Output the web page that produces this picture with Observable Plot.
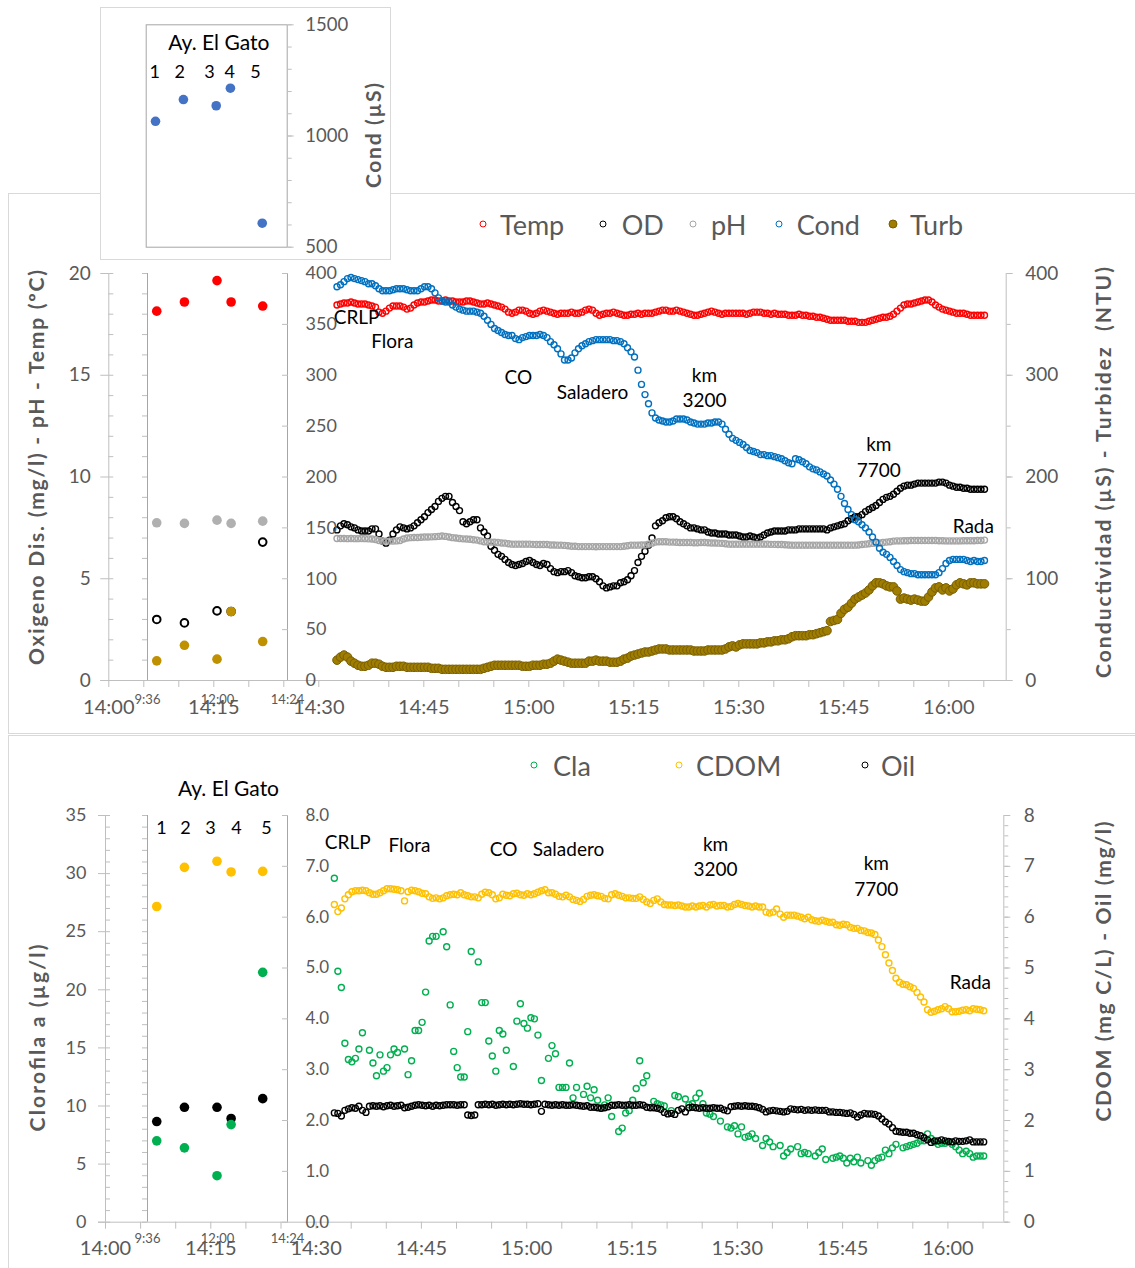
<!DOCTYPE html>
<html><head><meta charset="utf-8">
<script src="https://cdn.jsdelivr.net/npm/d3@7"></script>
<script src="https://cdn.jsdelivr.net/npm/@observablehq/plot@0.6"></script>
<style>
html,body{margin:0;padding:0;background:#fff;overflow:hidden;}
#root{position:relative;width:1135px;height:1268px;overflow:hidden;font-family:Lato,'Open Sans',sans-serif;}
#root svg{position:absolute;left:0;top:0;overflow:visible;}
.box{position:absolute;box-sizing:border-box;border:1px solid #D9D9D9;background:#fff;}
.lg{position:absolute;transform:translateY(-50%);color:#595959;font-size:27px;line-height:1;white-space:nowrap;}
.mk{position:absolute;box-sizing:border-box;border-radius:50%;transform:translate(-50%,-50%);}
</style></head>
<body><div id="root"></div>
<script>
// ---------------- DATA ----------------
// transect samples: every 30 s starting 14:32:36
const sampleStart = "14:32:36";
const sampleStepSeconds = 30;

// Temperature (ºC)
const temp = [
18.45,18.5,18.55,18.55,18.6,18.55,18.5,18.5,18.5,18.45,
18.4,18.35,18.1,18.05,18.15,18.3,18.4,18.4,18.4,18.35,
18.25,18.3,18.45,18.55,18.6,18.6,18.65,18.7,18.7,18.65,
18.65,18.7,18.65,18.65,18.6,18.6,18.6,18.65,18.65,18.6,
18.55,18.5,18.5,18.55,18.5,18.45,18.4,18.35,18.25,18.1,
18.05,18.1,18.2,18.2,18.15,18.05,18.0,18.05,18.15,18.2,
18.15,18.1,18.05,18.0,18.05,18.05,18.05,18.1,18.05,18.05,
18.1,18.2,18.25,18.2,18.05,17.95,18.0,18.05,18.05,18.1,
18.05,18.0,17.95,17.95,18.0,18.0,18.05,18.0,18.05,18.05,
18.05,18.1,18.15,18.2,18.2,18.15,18.15,18.2,18.15,18.1,
18.05,18.0,17.95,17.95,18.0,18.05,18.1,18.15,18.1,18.05,
18.0,18.05,18.05,18.05,18.05,18.05,18.05,18.0,18.05,18.1,
18.1,18.1,18.05,18.05,18.0,18.05,18.0,18.0,18.0,17.95,
17.95,17.95,18.0,17.95,17.95,17.9,17.9,17.85,17.85,17.8,
17.75,17.7,17.7,17.7,17.7,17.7,17.65,17.65,17.65,17.6,
17.6,17.6,17.65,17.7,17.75,17.8,17.85,17.85,17.9,18.0,
18.15,18.3,18.45,18.5,18.5,18.55,18.6,18.65,18.7,18.7,
18.6,18.45,18.35,18.25,18.2,18.15,18.1,18.05,18.05,18.05,
18.0,17.95,17.95,17.95,17.95,17.95];

// Oxígeno disuelto (mg/l)
const od = [
7.4,7.6,7.7,7.65,7.55,7.5,7.4,7.35,7.35,7.35,
7.45,7.45,7.2,6.85,6.75,6.9,7.2,7.4,7.55,7.5,
7.45,7.5,7.6,7.75,7.9,8.05,8.25,8.4,8.55,8.8,
8.95,9.05,9.05,8.75,8.55,8.35,7.8,7.7,7.8,7.9,
7.9,7.5,7.3,7.1,6.6,6.4,6.2,6.1,5.95,5.8,
5.7,5.65,5.7,5.75,5.85,5.9,5.8,5.7,5.65,5.75,
5.7,5.5,5.35,5.3,5.35,5.35,5.4,5.3,5.15,5.1,
5.05,5.05,5.1,5.1,5.0,4.85,4.65,4.55,4.6,4.65,
4.65,4.8,4.85,4.95,5.15,5.4,5.8,6.1,6.35,6.65,
7.0,7.6,7.75,7.85,8.0,8.05,8.05,7.95,7.8,7.7,
7.6,7.5,7.5,7.45,7.4,7.4,7.3,7.25,7.25,7.2,
7.2,7.2,7.15,7.15,7.15,7.1,7.05,7.05,7.1,7.05,
7.0,7.05,7.15,7.25,7.3,7.35,7.35,7.35,7.35,7.4,
7.4,7.4,7.45,7.45,7.45,7.45,7.45,7.45,7.45,7.45,
7.4,7.5,7.55,7.6,7.65,7.7,7.85,7.95,8.05,8.05,
8.15,8.3,8.4,8.5,8.6,8.75,8.9,9.0,9.05,9.15,
9.3,9.45,9.55,9.6,9.6,9.65,9.7,9.7,9.7,9.7,
9.7,9.7,9.75,9.75,9.7,9.6,9.55,9.5,9.5,9.45,
9.45,9.4,9.4,9.4,9.4,9.4];

// pH
const ph = [
6.98,6.98,6.98,6.97,6.98,6.97,6.97,6.98,6.97,6.96,
6.95,6.93,6.88,6.85,6.85,6.85,6.85,6.86,6.88,6.95,
7.0,7.02,7.03,7.03,7.04,7.05,7.05,7.06,7.07,7.08,
7.1,7.08,7.05,7.02,7.0,6.98,6.96,6.95,6.94,6.92,
6.9,6.86,6.82,6.8,6.8,6.79,6.78,6.76,6.75,6.72,
6.7,6.7,6.7,6.7,6.7,6.7,6.69,6.68,6.68,6.68,
6.68,6.66,6.66,6.65,6.65,6.64,6.62,6.6,6.6,6.58,
6.58,6.58,6.58,6.58,6.57,6.58,6.58,6.58,6.58,6.58,
6.58,6.58,6.6,6.62,6.65,6.65,6.65,6.66,6.66,6.7,
6.75,6.8,6.82,6.82,6.82,6.8,6.8,6.79,6.78,6.78,
6.78,6.78,6.77,6.77,6.78,6.78,6.77,6.76,6.76,6.75,
6.74,6.72,6.7,6.7,6.7,6.7,6.7,6.7,6.7,6.7,
6.7,6.7,6.7,6.7,6.69,6.69,6.68,6.68,6.67,6.66,
6.65,6.65,6.65,6.65,6.65,6.65,6.65,6.65,6.65,6.65,
6.65,6.65,6.65,6.65,6.65,6.65,6.65,6.65,6.65,6.66,
6.68,6.7,6.72,6.74,6.75,6.76,6.78,6.8,6.82,6.85,
6.86,6.86,6.87,6.87,6.88,6.88,6.88,6.88,6.88,6.88,
6.88,6.88,6.87,6.87,6.86,6.86,6.86,6.86,6.86,6.87,
6.87,6.87,6.87,6.88,6.88,6.9];

// Conductividad (µS)
const cond = [
387,389,392,395,396,395,394,393,392,390,
390,388,385,383,383,383,384,385,385,385,
384,383,383,383,385,387,387,385,381,376,
373,372,372,369,367,365,364,363,363,363,
362,361,358,354,350,346,344,342,340,339,
339,336,335,337,338,339,339,339,340,339,
337,333,330,326,321,315,315,317,322,326,
329,331,333,334,335,335,335,335,335,334,
334,333,331,327,323,318,305,291,281,272,
263,258,256,255,254,254,255,257,257,257,
256,254,253,252,252,252,253,253,254,254,
252,247,242,238,236,234,232,229,226,225,
224,222,222,221,221,220,219,218,216,214,
213,218,217,215,213,210,208,207,205,203,
201,197,193,188,181,174,168,163,158,156,
153,150,146,141,136,130,126,124,121,117,
113,109,107,106,105,105,104,104,104,104,
104,104,106,110,115,118,119,119,119,119,
118,117,118,117,117,118];

// Turbidez (NTU)
const turb = [
20,23,25,23,19,17,15,14,14,15,
17,17,16,14,13,13,13,14,14,14,
13,13,13,13,13,13,13,12,12,12,
11,11,11,11,11,11,11,11,11,11,
11,11,12,13,14,15,15,15,15,15,
15,15,15,14,14,14,15,15,15,16,
16,17,19,21,20,19,18,17,17,17,
17,17,19,19,20,19,19,19,18,18,
18,19,21,22,24,25,26,27,28,28,
29,30,31,31,31,30,30,30,30,30,
30,30,29,29,29,29,30,30,30,30,
30,31,33,34,33,35,36,36,36,36,
36,37,37,38,38,39,39,40,40,41,
43,44,44,44,44,45,45,46,47,48,
49,58,59,60,66,70,72,76,80,82,
84,86,89,93,96,96,95,93,92,92,
88,80,81,80,79,80,79,78,78,82,
87,91,92,89,91,88,90,94,96,95,
94,96,96,95,95,95];

// Clorofila a (µg/l); null = no visible sample
const cla = [
29.6,21.6,20.2,15.4,14.0,13.8,14.1,14.9,16.3,null,
14.8,13.7,12.6,14.4,13.0,13.3,14.4,14.9,14.6,null,
14.9,12.7,13.9,16.5,16.5,17.2,19.8,24.2,24.6,24.6,
null,25.0,23.7,18.7,14.7,13.3,12.5,12.5,16.4,23.3,
null,22.4,18.9,18.9,15.6,14.3,13.0,16.5,16.2,14.8,
null,13.4,17.3,18.8,17.1,16.7,17.6,17.5,16.1,12.2,
null,14.1,15.2,14.5,11.6,11.6,11.6,13.7,10.7,11.6,
null,11.0,11.7,10.7,11.4,10.5,9.8,10.1,10.7,9.1,
null,7.8,8.1,9.4,9.6,10.5,11.5,13.9,12.0,12.6,
null,10.4,10.2,10.1,10.0,null,9.6,10.9,10.8,null,
10.6,10.1,10.2,10.7,11.1,10.2,9.4,9.3,9.1,null,
8.7,null,8.2,8.1,8.3,7.6,8.2,7.3,7.4,7.6,
7.2,null,6.6,7.2,6.9,6.5,null,6.6,5.7,6.0,
6.3,null,6.5,5.9,6.0,5.9,null,5.7,6.0,6.3,
5.4,null,5.5,5.6,5.7,5.5,5.1,5.5,5.2,5.6,
5.1,null,5.3,4.9,5.3,5.5,5.6,6.2,5.9,6.4,
6.7,null,6.4,6.5,6.6,6.7,6.8,7.0,7.0,7.6,
7.2,6.9,6.7,6.8,6.8,6.9,6.7,6.5,6.2,5.9,
6.1,5.9,5.6,5.7,5.7,5.7];

// CDOM (mg C/L)
const cdom = [
6.25,6.11,6.18,6.36,6.44,6.5,6.52,6.52,6.53,6.52,
6.48,6.45,6.45,6.48,6.52,6.56,6.56,6.55,6.54,6.52,
6.32,6.5,6.53,6.52,6.5,6.47,6.46,6.4,6.37,6.38,
6.36,6.38,6.42,6.44,6.45,6.44,6.48,6.44,6.42,6.4,
6.4,6.38,6.45,6.49,6.48,6.44,6.36,6.38,6.45,6.43,
6.42,6.46,6.47,6.44,6.43,6.46,6.44,6.46,6.49,6.52,
6.54,6.48,6.48,6.45,6.41,6.4,6.43,6.4,6.35,6.33,
6.31,6.35,6.41,6.43,6.44,6.42,6.41,6.37,6.36,6.44,
6.46,6.43,6.41,6.38,6.38,6.37,6.37,6.4,6.35,6.3,
6.27,6.33,6.36,6.3,6.25,6.24,6.24,6.23,6.24,6.22,
6.2,6.2,6.22,6.2,6.22,6.23,6.2,6.24,6.25,6.22,
6.23,6.23,6.2,6.21,6.25,6.27,6.25,6.23,6.22,6.2,
6.22,6.2,6.2,6.1,6.08,6.1,6.16,6.06,6.0,6.04,
6.04,6.04,6.02,6.0,5.97,6.0,5.95,5.93,5.92,5.94,
5.92,5.9,5.9,5.85,5.84,5.86,5.85,5.8,5.78,5.78,
5.74,5.73,5.7,5.69,5.66,5.55,5.42,5.26,5.1,4.95,
4.8,4.72,4.68,4.67,4.63,4.6,4.52,4.43,4.33,4.18,
4.13,4.15,4.18,4.2,4.24,4.2,4.14,4.14,4.15,4.17,
4.18,4.16,4.2,4.19,4.18,4.16];

// Oil (mg/l)
const oil = [
2.15,2.14,2.09,2.2,2.23,2.25,2.24,2.28,2.2,2.16,
2.28,2.29,2.28,2.29,2.27,2.29,2.3,2.28,2.29,2.3,
2.25,2.26,2.28,2.3,2.31,2.3,2.29,2.3,2.28,2.3,
2.29,2.3,2.31,2.31,2.31,2.3,2.31,2.31,2.11,2.1,
2.11,2.31,2.31,2.32,2.31,2.32,2.3,2.31,2.32,2.31,
2.32,2.31,2.32,2.33,2.32,2.32,2.31,2.32,2.33,2.18,
2.32,2.31,2.3,2.31,2.3,2.31,2.3,2.3,2.31,2.3,
2.29,2.28,2.29,2.26,2.26,2.25,2.24,2.25,2.27,2.3,
2.3,2.31,2.3,2.3,2.31,2.3,2.3,2.31,2.3,2.26,
2.25,2.25,2.24,2.22,2.16,2.13,2.14,2.12,2.2,2.23,
2.17,2.25,2.26,2.25,2.24,2.25,2.24,2.24,2.25,2.24,
2.24,2.21,2.19,2.27,2.28,2.29,2.28,2.29,2.28,2.28,
2.27,2.25,2.22,2.17,2.19,2.2,2.19,2.18,2.17,2.18,
2.23,2.22,2.21,2.22,2.2,2.21,2.2,2.21,2.2,2.2,
2.2,2.17,2.17,2.16,2.16,2.15,2.14,2.15,2.12,2.07,
2.11,2.14,2.13,2.13,2.12,2.09,2.03,1.97,1.93,1.86,
1.79,1.78,1.77,1.77,1.75,1.75,1.72,1.7,1.66,1.62,
1.57,1.6,1.6,1.62,1.6,1.59,1.58,1.6,1.59,1.59,
1.6,1.62,1.58,1.58,1.58,1.58];

// Arroyo El Gato stations (sampling time of day)
const stationNames = ["1","2","3","4","5"];
const stationTime = ["09:55","10:52","11:59","12:28","13:33"];
const stationCond = [1066,1164,1136,1215,608];
const stationTemp = [18.15,18.6,19.65,18.6,18.4];
const stationOD = [3.0,2.83,3.42,3.39,6.8];
const stationPH = [7.75,7.72,7.88,7.72,7.83];
const stationTurb = [19.3,34.6,21,67.8,38.3];
const stationCDOM = [6.21,6.98,7.1,6.89,6.9];
const stationOil = [1.98,2.26,2.26,2.04,2.43];
const stationCla = [7.0,6.4,4.0,8.4,21.5];

// Site annotations along the transect (minutes after 14:00, axis value)
const sitesTop = [
  {label:"CRLP", t:35.4, v:17.94}, {label:"Flora", t:40.5, v:16.76},
  {label:"CO", t:58.5, v:14.99}, {label:"Saladero", t:69.1, v:14.25},
  {label:"km\n3200", t:85.1, v:14.45}, {label:"km\n7700", t:110.0, v:11.03},
  {label:"Rada", t:123.5, v:7.67}];
const sitesBottom = [
  {label:"CRLP", t:34.5, v:7.51}, {label:"Flora", t:43.3, v:7.44},
  {label:"CO", t:56.7, v:7.36}, {label:"Saladero", t:65.95, v:7.36},
  {label:"km\n3200", t:86.9, v:7.22}, {label:"km\n7700", t:109.8, v:6.83},
  {label:"Rada", t:123.2, v:4.74}];

// ---------------- HELPERS ----------------
const W = 1135, H = 1268;
const FONT = "Lato, 'Open Sans', sans-serif";
const AX = "#BFBFBF", TXT = "#595959", FRAME = "#A6A6A6";
const RED = "#FF0000", BLUE = "#0070C0", GRAY = "#A5A5A5", GREEN = "#00B050", GOLD = "#FFC000";
const root = document.getElementById("root");

const hm = s => { const [h, m] = s.split(":").map(Number); return h * 60 + m; };
const fmtHM = m => `${Math.floor(m / 60)}:${String(Math.round(m % 60)).padStart(2, "0")}`;
const [sh, sm, ss] = sampleStart.split(":").map(Number);
const t0 = (sh - 14) * 60 + sm + ss / 60;
const times = temp.map((_, i) => t0 + i * sampleStepSeconds / 60);

const rows = temp.map((_, i) => ({t: times[i], temp: temp[i], od: od[i], ph: ph[i], cond: cond[i],
  turb: turb[i], cla: cla[i], cdom: cdom[i], oil: oil[i]}));
const stations = stationNames.map((n, i) => ({name: n, m: hm(stationTime[i]), cond: stationCond[i],
  temp: stationTemp[i], od: stationOD[i], ph: stationPH[i], turb: stationTurb[i],
  cdom: stationCDOM[i], oil: stationOil[i], cla: stationCla[i]}));

const style = {background: "transparent", fontFamily: FONT, overflow: "visible", color: TXT};
function add(el) { root.appendChild(el); return el; }
function box(l, t, w, h) { const d = document.createElement("div"); d.className = "box";
  Object.assign(d.style, {left: l + "px", top: t + "px", width: w + "px", height: h + "px"}); add(d); }
const tickAxY = (anchor, ticks, size, dx = 0) => Plot.axisY({anchor, ticks, tickSize: size, dx,
  tickFormat: () => "", stroke: AX, label: null});
const labAxY = (anchor, ticks, pad, fmt, fs) => Plot.axisY({anchor, ticks, tickSize: 0, tickPadding: pad,
  tickFormat: d => String(fmt(d)), fontSize: fs, fill: TXT, label: null});

// ---------------- PANEL FRAMES ----------------
box(8, 193, 1140, 541);
box(8, 735, 1140, 545);

// ---------------- TOP MAIN ----------------
const xTopEnd = (1005.7 - 108.3) / 7;
add(Plot.plot({
  width: W, height: H, style,
  marginLeft: 108.3, marginRight: W - 1005.7, marginTop: 273, marginBottom: H - 680,
  x: {domain: [0, xTopEnd], label: null}, y: {domain: [0, 20], label: null},
  marks: [
    Plot.ruleY([0], {stroke: AX, insetLeft: -8, insetRight: -4}),
    Plot.ruleX([0, xTopEnd], {stroke: AX}),
    Plot.axisX({ticks: d3.range(0, 126, 5), tickSize: 7, stroke: AX, tickFormat: () => "", label: null}),
    Plot.axisX({ticks: d3.range(0, 121, 15), tickSize: 0, tickPadding: 19, tickFormat: t => fmtHM(840 + t),
      fontSize: 20, fill: TXT, label: null}),
    tickAxY("left", d3.range(0, 21, 5), 8),
    tickAxY("left", d3.range(0, 21, 1), 5, 5),
    labAxY("left", d3.range(0, 21, 5), 18, d => d, 19),
    tickAxY("right", d3.range(0, 21, 5), 6),
    tickAxY("right", d3.range(0, 21, 2.5), 4),
    labAxY("right", d3.range(0, 21, 5), 19, d => d * 20, 19),
    Plot.dot(rows, {x: "t", y: "temp", r: 3, stroke: RED, strokeWidth: 1.4}),
    Plot.dot(rows, {x: "t", y: "od", r: 3, stroke: "#000", strokeWidth: 1.4}),
    Plot.dot(rows, {x: "t", y: "ph", r: 3, stroke: GRAY, strokeWidth: 1.4}),
    Plot.dot(rows, {x: "t", y: d => d.cond / 20, r: 3, stroke: BLUE, strokeWidth: 1.4}),
    Plot.dot(rows, {x: "t", y: d => d.turb / 20, r: 4.3, fill: "#9E7D00", stroke: "#7A5E00", strokeWidth: 1}),
    Plot.text(sitesTop, {x: "t", y: "v", text: "label", fontSize: 19, fill: "#000", lineHeight: 1.35})
  ]
}));

// ---------------- TOP INSET (Ay. El Gato) ----------------
add(Plot.plot({
  width: W, height: H, style,
  marginLeft: 147, marginRight: W - 287, marginTop: 273, marginBottom: H - 680,
  x: {domain: [576, 864], label: null}, y: {domain: [0, 20], label: null},
  marks: [
    Plot.ruleX([576, 864], {stroke: FRAME}),
    tickAxY("left", d3.range(0, 21, 1), 5),
    tickAxY("right", d3.range(0, 20.01, 2.5), 6, -6),
    labAxY("right", d3.range(0, 20.01, 2.5), 18, d => d * 20, 18),
    Plot.axisX({ticks: [576, 720, 864], tickSize: 0, tickPadding: 14, tickFormat: fmtHM, fontSize: 13, fill: TXT, label: null}),
    Plot.dot(stations, {x: "m", y: "temp", r: 4.8, fill: RED}),
    Plot.dot(stations, {x: "m", y: "od", r: 3.8, stroke: "#000", strokeWidth: 2}),
    Plot.dot(stations, {x: "m", y: "ph", r: 4.8, fill: "#B0B0B0"}),
    Plot.dot(stations, {x: "m", y: d => d.turb / 20, r: 4.8, fill: "#BF9000"})
  ]
}));

// ---------------- COND INSET ----------------
box(100, 7, 291, 253);
add(Plot.plot({
  width: W, height: H, style,
  marginLeft: 145.7, marginRight: W - 286.7, marginTop: 24.3, marginBottom: H - 246.7,
  x: {domain: [576, 864], label: null, axis: null}, y: {domain: [500, 1500], label: null},
  marks: [
    Plot.frame({stroke: FRAME}),
    tickAxY("right", [500, 1000, 1500], 6),
    tickAxY("right", d3.range(500, 1501, 100), 4),
    labAxY("right", [500, 1000, 1500], 18, d => d, 18.5),
    Plot.dot(stations, {x: "m", y: "cond", r: 4.8, fill: "#4472C4"}),
    Plot.text(stationNames, {x: [593.6, 644.6, 705.3, 746.8, 799.3], y: 1287, text: d => d, fontSize: 18, fill: "#000"}),
    Plot.text(["Ay. El Gato"], {x: 724.3, y: 1417, text: d => d, fontSize: 21, fill: "#000"})
  ]
}));

// ---------------- BOTTOM MAIN ----------------
const xBotEnd = (1003.3 - 105) / 7.02;
const c2y = d => d * 8 / 35;
add(Plot.plot({
  width: W, height: H, style,
  marginLeft: 105, marginRight: W - 1003.3, marginTop: 815, marginBottom: H - 1221.7,
  x: {domain: [0, xBotEnd], label: null}, y: {domain: [0, 8], label: null},
  marks: [
    Plot.ruleY([0], {stroke: AX, insetLeft: -7, insetRight: -5}),
    Plot.ruleX([0, xBotEnd], {stroke: AX}),
    Plot.axisX({ticks: d3.range(0, 126, 5), tickSize: 7, stroke: AX, tickFormat: () => "", label: null}),
    Plot.axisX({ticks: d3.range(0, 121, 15), tickSize: 0, tickPadding: 19, tickFormat: t => fmtHM(840 + t),
      fontSize: 20, fill: TXT, label: null}),
    tickAxY("left", d3.range(0, 36, 5).map(c2y), 7),
    tickAxY("left", d3.range(0, 36, 1).map(c2y), 5, 5),
    labAxY("left", d3.range(0, 36, 5).map(c2y), 19, d => Math.round(d * 35 / 8), 18),
    tickAxY("right", d3.range(0, 9, 1), 6),
    tickAxY("right", d3.range(0, 8.01, 0.2), 4),
    labAxY("right", d3.range(0, 9, 1), 20, d => d, 19),
    Plot.dot(rows, {x: "t", y: d => d.cla == null ? NaN : c2y(d.cla), r: 3, stroke: GREEN, strokeWidth: 1.4}),
    Plot.dot(rows, {x: "t", y: "cdom", r: 3, stroke: GOLD, strokeWidth: 1.4}),
    Plot.dot(rows, {x: "t", y: "oil", r: 3, stroke: "#000", strokeWidth: 1.4}),
    Plot.text(sitesBottom, {x: "t", y: "v", text: "label", fontSize: 19, fill: "#000", lineHeight: 1.35})
  ]
}));

// ---------------- BOTTOM INSET ----------------
add(Plot.plot({
  width: W, height: H, style,
  marginLeft: 147, marginRight: W - 287, marginTop: 815, marginBottom: H - 1221.7,
  x: {domain: [576, 864], label: null}, y: {domain: [0, 8], label: null},
  marks: [
    Plot.ruleX([576, 864], {stroke: FRAME}),
    tickAxY("left", d3.range(0, 36, 1).map(c2y), 5),
    tickAxY("right", d3.range(0, 9, 1), 6, -6),
    labAxY("right", d3.range(0, 9, 1), 18, d3.format(".1f"), 17),
    Plot.axisX({ticks: [576, 720, 864], tickSize: 0, tickPadding: 12, tickFormat: fmtHM, fontSize: 13, fill: TXT, label: null}),
    Plot.dot(stations, {x: "m", y: "cdom", r: 4.8, fill: GOLD}),
    Plot.dot(stations, {x: "m", y: "oil", r: 4.8, fill: "#000"}),
    Plot.dot(stations, {x: "m", y: d => c2y(d.cla), r: 4.8, fill: GREEN}),
    Plot.text(stationNames, {x: [604.8, 654.2, 705.6, 759, 820.8], y: 7.75, text: d => d, fontSize: 18, fill: "#000"}),
    Plot.text(["Ay. El Gato"], {x: 742.6, y: 8.52, text: d => d, fontSize: 21, fill: "#000"})
  ]
}));

// ---------------- AXIS TITLES ----------------
const titles = [
  {text: "Oxigeno Dis. (mg/l) - pH - Temp (ºC)", x: 35, y: 467.5, len: 395},
  {text: "Conductividad (µS) - Turbidez  (NTU)", x: 1102.5, y: 472.5, len: 411},
  {text: "Cond (µS)", x: 372.5, y: 135.5, len: 105},
  {text: "Clorofila a (µg/l)", x: 36, y: 1038, len: 187},
  {text: "CDOM (mg C/L) - Oil (mg/l)", x: 1102, y: 971.5, len: 300}
];
const ov = d3.create("svg").attr("width", W).attr("height", H).style("font-family", FONT);
ov.selectAll("text").data(titles).join("text")
  .attr("transform", d => `translate(${d.x},${d.y}) rotate(-90)`)
  .attr("text-anchor", "middle").attr("dominant-baseline", "central")
  .attr("font-weight", 700).attr("font-size", 21).attr("fill", TXT)
  .attr("textLength", d => d.len).attr("lengthAdjust", "spacing")
  .style("white-space", "pre").text(d => d.text);
add(ov.node());

// ---------------- LEGENDS ----------------
const legends = [
  {label: "Temp", y: 224, mx: 482.7, tx: 500, stroke: RED},
  {label: "OD", y: 224, mx: 603.3, tx: 621.7, stroke: "#000"},
  {label: "pH", y: 224, mx: 693, tx: 711, stroke: GRAY},
  {label: "Cond", y: 224, mx: 779, tx: 796.7, stroke: BLUE},
  {label: "Turb", y: 224, mx: 893, tx: 910, stroke: "#7A5E00", fill: "#9E7D00", size: 9},
  {label: "Cla", y: 765, mx: 534.3, tx: 553, stroke: GREEN},
  {label: "CDOM", y: 765, mx: 679, tx: 696, stroke: GOLD},
  {label: "Oil", y: 765, mx: 865.3, tx: 881, stroke: "#000"}
];
for (const L of legends) {
  const m = document.createElement("div"); m.className = "mk";
  const s = L.size || 7;
  Object.assign(m.style, {left: L.mx + "px", top: L.y + "px", width: s + "px", height: s + "px",
    border: `1.5px solid ${L.stroke}`, background: L.fill || "transparent"});
  add(m);
  const t = document.createElement("div"); t.className = "lg"; t.textContent = L.label;
  Object.assign(t.style, {left: L.tx + "px", top: L.y + "px"});
  add(t);
}
</script></body></html>
